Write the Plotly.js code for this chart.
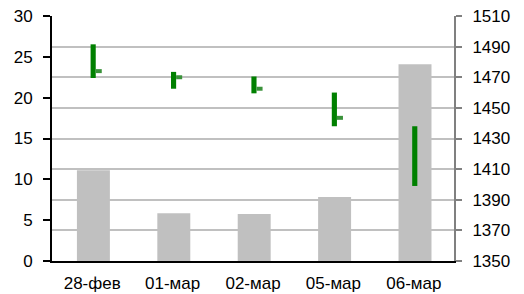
<!DOCTYPE html>
<html>
<head>
<meta charset="utf-8">
<script src="https://cdn.plot.ly/plotly-3.0.1.min.js"></script>
<style>html,body{margin:0;padding:0;background:#fff;}#chart{width:524px;height:294px;}</style>
</head>
<body>
<div id="chart"></div>
<script>
const categories = ["28-фев", "01-мар", "02-мар", "05-мар", "06-мар"];
const volume = [11.1, 5.85, 5.75, 7.85, 24.1];
const priceHigh = [1491.5, 1473.5, 1470.5, 1460, 1438];
const priceLow = [1469.5, 1462.5, 1459.5, 1438, 1399];
const priceClose = [1474, 1470, 1462.5, 1443.5, null];
const leftTicks = [0, 5, 10, 15, 20, 25, 30];
const rightTicks = [1350, 1370, 1390, 1410, 1430, 1450, 1470, 1490, 1510];

const font = {family: "Liberation Sans, Arial, sans-serif", size: 17, color: "#000"};
const tickH = 2.6;

const traces = [
  {type: "bar", x: categories, y: volume, marker: {color: "#c0c0c0", line: {width: 0}},
   width: 0.41, offset: -0.19, yaxis: "y", hoverinfo: "skip"},
  {type: "bar", x: categories, y: priceHigh.map((h, i) => h - priceLow[i]), base: priceLow,
   marker: {color: "#008000", line: {width: 0}}, width: 0.064, offset: -0.02, yaxis: "y2", hoverinfo: "skip"},
  {type: "bar", x: categories,
   y: priceClose.map(c => c === null ? null : tickH),
   base: priceClose.map(c => c === null ? null : c - tickH / 2),
   marker: {color: "#3a923a", line: {width: 0}}, width: 0.075, offset: 0.044, yaxis: "y2", hoverinfo: "skip"}
];

const layout = {
  width: 524, height: 294,
  margin: {l: 52, r: 70, t: 16, b: 33, pad: 0},
  paper_bgcolor: "#fff", plot_bgcolor: "#fff",
  showlegend: false, barmode: "overlay",
  font: font,
  xaxis: {type: "category", showgrid: false, showline: true, linecolor: "#000", linewidth: 2,
          ticks: "", tickfont: font, ticklabelstandoff: 6, zeroline: false, range: [-0.5, 4.5]},
  yaxis: {range: [0, 30], tickvals: leftTicks, showgrid: false, showline: true, linecolor: "#000",
          linewidth: 2, ticks: "outside", ticklen: 7, tickwidth: 2, tickcolor: "#000",
          tickfont: font, ticklabelstandoff: 7, zeroline: false},
  yaxis2: {range: [1350, 1510], tickvals: rightTicks, overlaying: "y", side: "right",
           showgrid: true, gridcolor: "#c0c0c0", gridwidth: 2, showline: true, linecolor: "#808080",
           linewidth: 2, ticks: "outside", ticklen: 6, tickwidth: 2, tickcolor: "#808080",
           tickfont: font, ticklabelstandoff: 7, zeroline: false}
};

Plotly.newPlot("chart", traces, layout, {displayModeBar: false, staticPlot: true});
</script>
</body>
</html>
